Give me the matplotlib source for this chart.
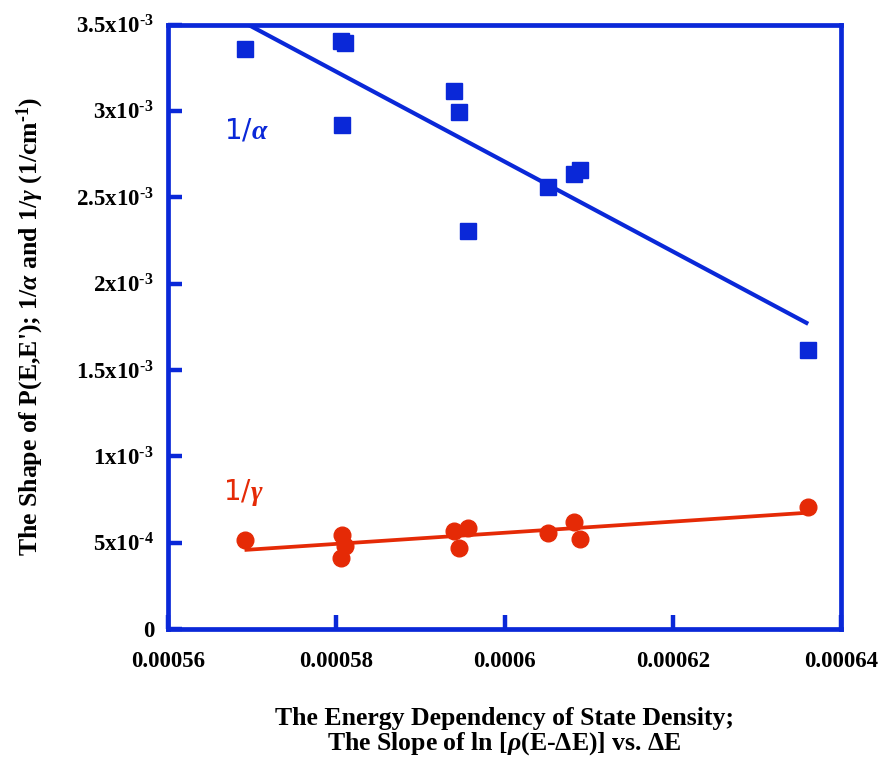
import numpy as np
import matplotlib
matplotlib.use("Agg")
import matplotlib.pyplot as plt

# Slope of ln[rho(E - dE)] vs dE for each data set
slope_x = [0.0005691, 0.0005806, 0.0005810, 0.0005807, 0.0005940, 0.0005946,
           0.0005957, 0.0006052, 0.00060825, 0.00060896, 0.0006361]
# Shape parameters of P(E,E') (1/cm^-1)
inv_alpha = [3.361e-3, 3.405e-3, 3.393e-3, 2.916e-3, 3.1175e-3, 2.996e-3,
             2.3055e-3, 2.561e-3, 2.632e-3, 2.659e-3, 1.615e-3]
inv_gamma = [5.17e-4, 4.11e-4, 4.79e-4, 5.42e-4, 5.70e-4, 4.71e-4,
             5.87e-4, 5.56e-4, 6.19e-4, 5.23e-4, 7.06e-4]

x_ticks = [0.00056, 0.00058, 0.0006, 0.00062, 0.00064]
x_tick_labels = ["0.00056", "0.00058", "0.0006", "0.00062", "0.00064"]
y_ticks = [0, 5e-4, 1e-3, 1.5e-3, 2e-3, 2.5e-3, 3e-3, 3.5e-3]
y_tick_labels = ["0", r"5x10$^{\text{-}4}$", r"1x10$^{\text{-}3}$", r"1.5x10$^{\text{-}3}$",
                 r"2x10$^{\text{-}3}$", r"2.5x10$^{\text{-}3}$", r"3x10$^{\text{-}3}$",
                 r"3.5x10$^{\text{-}3}$"]

BLUE = "#0a28d8"
RED = "#e52a06"

plt.rcParams["font.family"] = ["Liberation Serif", "DejaVu Serif"]
plt.rcParams["font.weight"] = "bold"
plt.rcParams["axes.labelweight"] = "bold"
plt.rcParams["mathtext.fontset"] = "custom"
plt.rcParams["mathtext.rm"] = "Liberation Serif:bold"
plt.rcParams["mathtext.it"] = "Liberation Serif:italic:bold"
plt.rcParams["mathtext.bf"] = "Liberation Serif:bold"
plt.rcParams["mathtext.default"] = "rm"

fig = plt.figure(figsize=(8.8, 7.59), dpi=100)
ax = fig.add_axes([0.1909, 0.1713, 0.7648, 0.7964])

x = np.array(slope_x)
xs = np.array([x.min(), x.max()])

# least-squares trend lines
pa = np.polyfit(x, inv_alpha, 1)
pg = np.polyfit(x, inv_gamma, 1)
ax.plot(xs, np.polyval(pa, xs), color=BLUE, lw=3.0, solid_capstyle="butt", zorder=2)
ax.plot(xs, np.polyval(pg, xs), color=RED, lw=2.7, solid_capstyle="butt", zorder=2)

ax.plot(x, inv_alpha, ls="none", marker="s", ms=11.5, color=BLUE, mec=BLUE, zorder=3)
ax.plot(x, inv_gamma, ls="none", marker="o", ms=12, color=RED, mec=RED, zorder=3)

ax.text(0.0005693, 2.886e-3, r"1/$\mathit{\alpha}$", color=BLUE, fontsize=20,
        family="DejaVu Sans", weight="normal", ha="center", va="center")
ax.text(0.0005689, 7.92e-4, r"1/$\mathit{\gamma}$", color=RED, fontsize=20,
        family="DejaVu Sans", weight="normal", ha="center", va="center")

ax.set_xlim(0.00056, 0.00064)
ax.set_ylim(0, 3.5e-3)
ax.set_xticks(x_ticks)
ax.set_xticklabels(x_tick_labels)
ax.set_yticks(y_ticks)
ax.set_yticklabels(y_tick_labels)

for s in ax.spines.values():
    s.set_color(BLUE)
    s.set_linewidth(3.4)

ax.tick_params(axis="both", direction="in", length=10, width=3.2, color=BLUE,
               labelsize=16.5, top=False, right=False)
ax.tick_params(axis="x", pad=16)
ax.tick_params(axis="y", pad=10)

ax.set_xlabel("The Energy Dependency of State Density;\n"
              r"The Slope of ln [$\mathit{\rho}$(E-$\Delta$E)] vs. $\Delta$E",
              fontsize=18.5, labelpad=25, linespacing=1.0)
ax.set_ylabel(r"The Shape of P(E,E'); 1/$\mathit{\alpha}$ and 1/$\mathit{\gamma}$ (1/cm$^{\text{-}1}$)",
              fontsize=18.5, labelpad=22)

fig.savefig("out.png", dpi=100)
